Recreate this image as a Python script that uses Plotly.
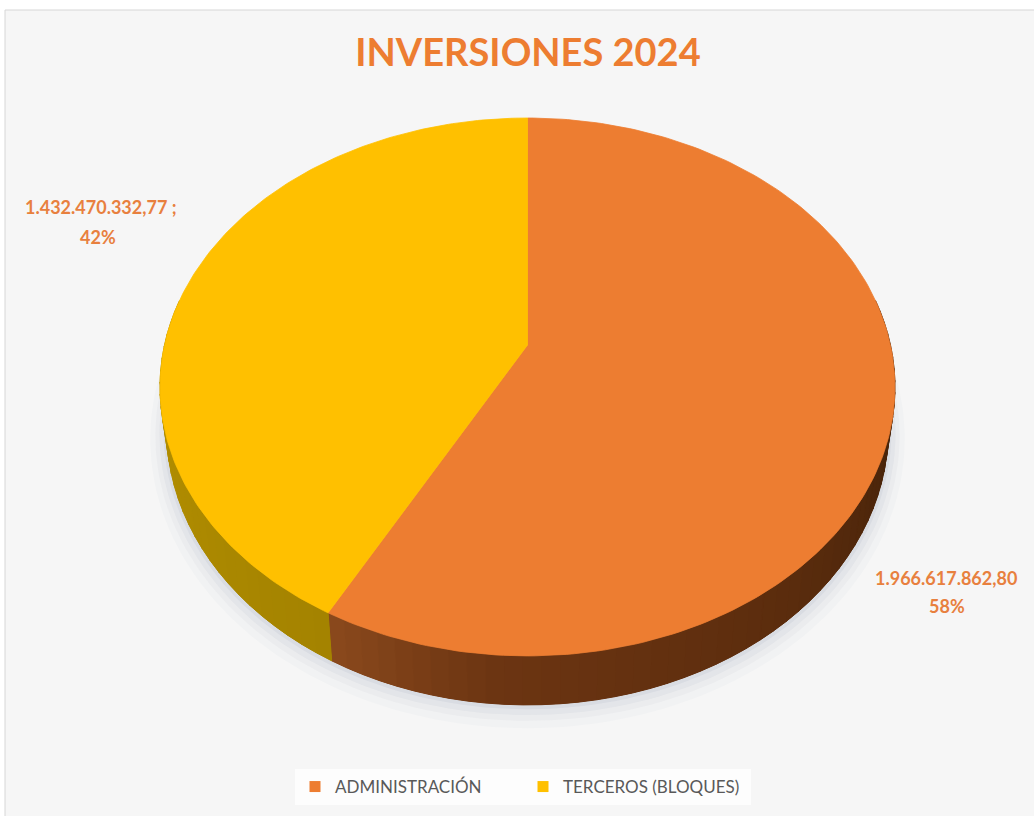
import numpy as np
import plotly.graph_objects as go

# --- data -------------------------------------------------------------
categories = ["ADMINISTRACIÓN", "TERCEROS (BLOQUES)"]
values = [1966617862.80, 1432470332.77]
label_suffix = ["", " ;"]

# --- styling ----------------------------------------------------------
top_colors = ["#ED7D31", "#FFC000"]
# side-wall shades per slice: (angle_deg, colour) stops along the rim
wall_stops = [
    [(85, "#3e1f08"), (140, "#5a2c0d"), (185, "#6c3512"), (209, "#8c4a1d")],
    [(209, "#a48300"), (240, "#ad8a00"), (275, "#b48f00")],
]
W, H = 1034, 816
CX, CY = 527.5, 345.0          # projected pie centre (pixels)
A, B, E = 363.0, 262.4, 0.156  # horizontal radius, vertical radius, perspective
DEPTH = 49.0                   # thickness of the disc at the front
SHRINK = 0.982                 # bottom rim is slightly narrower (further away)
FONT = "Lato"


def project(theta, r=1.0, drop=0.0):
    """theta: clockwise angle from 12 o'clock (radians)."""
    u = r * np.sin(theta)
    v = -r * np.cos(theta)
    w = 1.0 - E * v
    x = A * u / w
    y = CY + B * v / w + drop * (1.0 - E) / w
    if drop:
        x = x * SHRINK
    return CX + x, y


def hex_rgb(h):
    h = h.lstrip("#")
    return np.array([int(h[i:i + 2], 16) for i in (0, 2, 4)], dtype=float)


def stop_colour(stops, deg):
    degs = [s[0] for s in stops]
    cols = np.array([hex_rgb(s[1]) for s in stops])
    c = [np.interp(deg, degs, cols[:, k]) for k in range(3)]
    return "rgb(%d,%d,%d)" % tuple(int(round(v)) for v in c)


def fmt_es(v):
    s = f"{v:,.2f}"
    return s.replace(",", "X").replace(".", ",").replace("X", ".")


total = float(sum(values))
fractions = [v / total for v in values]
starts = np.cumsum([0.0] + fractions[:-1]) * 2 * np.pi
ends = starts + np.array(fractions) * 2 * np.pi

fig = go.Figure()

# soft shadow under the disc
full = np.linspace(0, 2 * np.pi, 241)
for grow, alpha in [(16, 0.03), (11, 0.045), (7, 0.06), (3, 0.08)]:
    sx, sy = project(full, r=1.0 + grow / A, drop=DEPTH + grow * 0.4)
    fig.add_trace(go.Scatter(x=sx, y=sy, mode="lines", fill="toself",
                             fillcolor=f"rgba(105,115,150,{alpha})",
                             line=dict(width=0), hoverinfo="skip",
                             showlegend=False))

# side walls (front half of the rim only)
front_lo, front_hi = np.radians(80), np.radians(280)
for i in range(len(values)):
    t0, t1 = max(starts[i], front_lo), min(ends[i], front_hi)
    if t1 <= t0:
        continue
    # solid base for the whole wall of this slice
    arc = np.linspace(t0, t1, 120)
    xt, yt = project(arc)
    xb, yb = project(arc[::-1], drop=DEPTH)
    base = stop_colour(wall_stops[i], np.degrees((t0 + t1) / 2))
    fig.add_trace(go.Scatter(
        x=np.concatenate([xt, xb, xt[:1]]), y=np.concatenate([yt, yb, yt[:1]]),
        mode="lines", fill="toself", fillcolor=base,
        line=dict(width=0), hoverinfo="skip", showlegend=False))
    # shaded strips along the rim
    n = max(2, int(np.degrees(t1 - t0) / 2.5) + 1)
    ts = np.linspace(t0, t1, n)
    for k in range(n - 1):
        seg = np.linspace(ts[k], ts[k + 1], 4)
        xt, yt = project(seg)
        xb, yb = project(seg[::-1], drop=DEPTH)
        col = stop_colour(wall_stops[i], np.degrees((ts[k] + ts[k + 1]) / 2))
        fig.add_trace(go.Scatter(
            x=np.concatenate([xt, xb, xt[:1]]),
            y=np.concatenate([yt, yb, yt[:1]]),
            mode="lines", fill="toself", fillcolor=col,
            line=dict(width=1, color=col), hoverinfo="skip",
            showlegend=False))

# top faces
for i in range(len(values)):
    ts = np.linspace(starts[i], ends[i], 200)
    xa, ya = project(ts)
    xs = np.concatenate([[CX], xa, [CX]])
    ys = np.concatenate([[CY], ya, [CY]])
    fig.add_trace(go.Scatter(x=xs, y=ys, mode="lines", fill="toself",
                             fillcolor=top_colors[i],
                             line=dict(width=0.8, color=top_colors[i]),
                             name=categories[i], hoverinfo="skip",
                             showlegend=False))

# legend entries
for i, name in enumerate(categories):
    fig.add_trace(go.Scatter(x=[None], y=[None], mode="markers", name=name,
                             marker=dict(symbol="square", size=11,
                                         color=top_colors[i])))

# data labels: value ; percentage
label_pos = [((946, 578), (947, 606)), ((101, 207), (98, 237))]
for i in range(len(values)):
    (vx, vy), (px, py) = label_pos[i]
    fig.add_annotation(x=vx, y=vy, xref="x", yref="y", showarrow=False,
                       text=fmt_es(values[i]) + label_suffix[i],
                       font=dict(family=FONT, size=18, color="#E8803E",
                                 weight="bold"))
    fig.add_annotation(x=px, y=py, xref="x", yref="y", showarrow=False,
                       text=f"{round(fractions[i] * 100)}%",
                       font=dict(family=FONT, size=18, color="#E8803E",
                                 weight="bold"))

fig.update_layout(
    width=W, height=H,
    margin=dict(l=0, r=0, t=0, b=0),
    paper_bgcolor="#ffffff",
    plot_bgcolor="rgba(0,0,0,0)",
    xaxis=dict(range=[0, W], visible=False, fixedrange=True),
    yaxis=dict(range=[H, 0], visible=False, fixedrange=True),
    title=dict(text="INVERSIONES 2024", x=528 / W, xanchor="center",
               y=1 - 53 / H, yanchor="middle",
               font=dict(family=FONT, size=38, color="#ED7D31",
                         weight="bold")),
    legend=dict(orientation="h", x=295 / W, xanchor="left",
                y=1 - 787 / H, yanchor="middle",
                bgcolor="#fdfdfd", font=dict(family=FONT, size=17,
                                             color="#595959"),
                itemwidth=30, entrywidth=183, entrywidthmode="pixels",
                traceorder="normal"),
    shapes=[dict(type="rect", xref="paper", yref="paper",
                 x0=5 / W, x1=1.01, y0=-0.01, y1=1 - 10 / H,
                 fillcolor="#f6f6f6", line=dict(color="#d6d6d6", width=1),
                 layer="below")],
)

fig.write_html("out.html")
